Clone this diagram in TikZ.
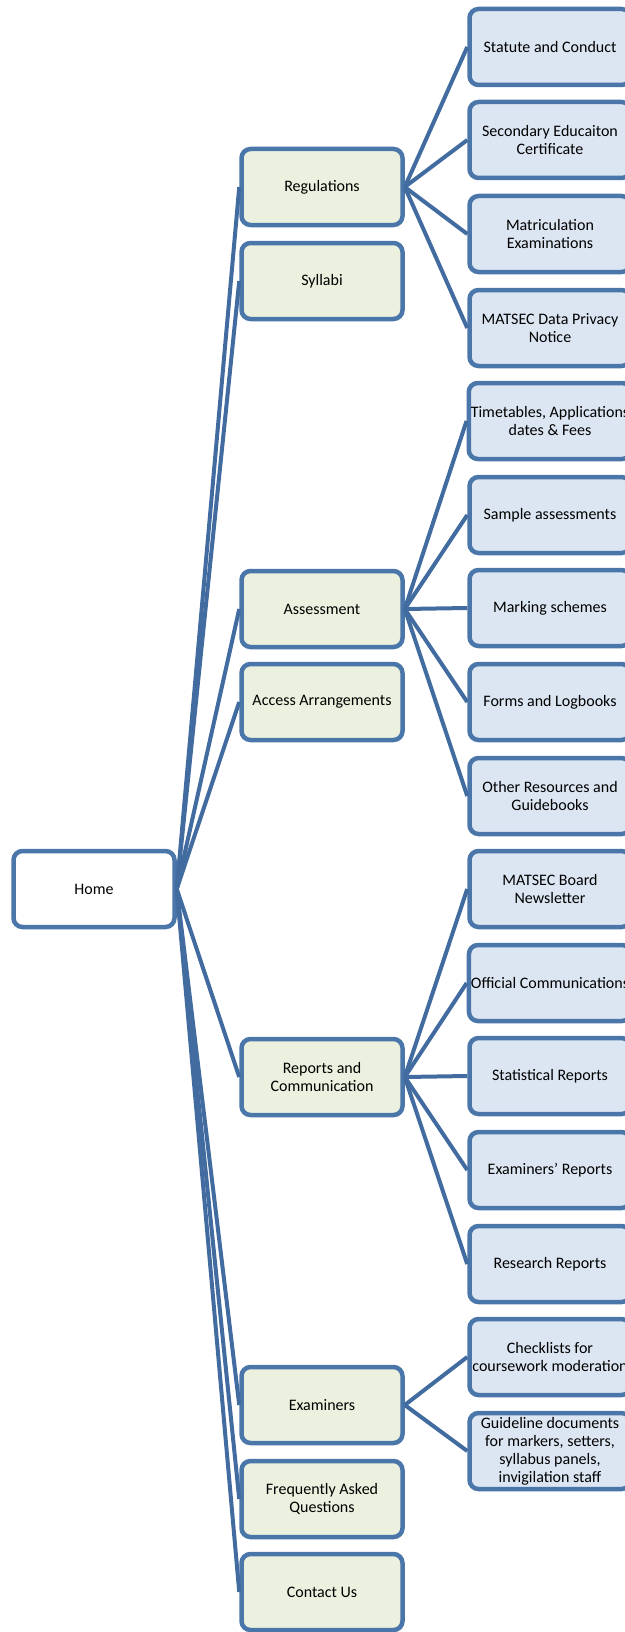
\documentclass[tikz,border=0pt]{standalone}
\usepackage{fontspec}
\setmainfont{Carlito}
\usepackage{xcolor}
\definecolor{edgeblue}{RGB}{74,118,170}
\definecolor{linkblue}{RGB}{66,108,160}
\definecolor{greenfill}{RGB}{235,241,222}
\definecolor{bluefill}{RGB}{220,230,242}

\begin{document}
\begin{tikzpicture}[x=1pt, y=-1pt,
    box/.style={draw=edgeblue, line width=4.5pt, rounded corners=9pt, minimum width=161pt, minimum height=76pt, inner sep=2pt, align=center, font=\fontsize{16}{18}\selectfont},
    top/.style={box, fill=white},
    sect/.style={box, fill=greenfill},
    page/.style={box, fill=bluefill},
    link/.style={draw=linkblue, line width=4pt}]
            \useasboundingbox (0,0) rectangle (624,1632);

            % Home
            \node[top] (home) at (94,889) {Home};

            % First level
            \node[sect] (reg) at (322,187) {Regulations};
            \node[sect] (syl) at (322,281) {Syllabi};
            \node[sect] (asm) at (322,609) {Assessment};
            \node[sect] (acc) at (322,702) {Access Arrangements};
            \node[sect] (rep) at (322,1077) {Reports and\\Communication};
            \node[sect] (exa) at (322,1405) {Examiners};
            \node[sect] (faq) at (322,1499) {Frequently Asked\\Questions};
            \node[sect] (con) at (322,1592) {Contact Us};

            % Second level
            \node[page] (statute) at (550,47) {Statute and Conduct};
            \node[page] (secedu) at (550,140) {Secondary Educaiton\\Certificate};
            \node[page] (matric) at (550,234) {Matriculation\\Examinations};
            \node[page] (privacy) at (550,328) {MATSEC Data Privacy\\Notice};
            \node[page] (timetab) at (550,421) {Timetables, Applications\\dates \& Fees};
            \node[page] (sample) at (550,515) {Sample assessments};
            \node[page] (marking) at (550,608) {Marking schemes};
            \node[page] (forms) at (550,702) {Forms and Logbooks};
            \node[page] (other) at (550,796) {Other Resources and\\Guidebooks};
            \node[page] (newsl) at (550,889) {MATSEC Board\\Newsletter};
            \node[page] (offic) at (550,983) {Official Communications};
            \node[page] (stats) at (550,1076) {Statistical Reports};
            \node[page] (exrep) at (550,1170) {Examiners' Reports};
            \node[page] (research) at (550,1264) {Research Reports};
            \node[page] (checkl) at (550,1357) {Checklists for\\coursework moderation};
            \node[page] (guide) at (550,1451) {Guideline documents\\for markers, setters,\\syllabus panels,\\invigilation staff};

            % Connectors
            \foreach \n in {reg,syl,asm,acc,rep,exa,faq,con}
                \draw[link] (home.east) -- (\n.west);
            \foreach \n in {statute,secedu,matric,privacy}
                \draw[link] (reg.east) -- (\n.west);
            \foreach \n in {timetab,sample,marking,forms,other}
                \draw[link] (asm.east) -- (\n.west);
            \foreach \n in {newsl,offic,stats,exrep,research}
                \draw[link] (rep.east) -- (\n.west);
            \foreach \n in {checkl,guide}
                \draw[link] (exa.east) -- (\n.west);
\end{tikzpicture}
\end{document}
